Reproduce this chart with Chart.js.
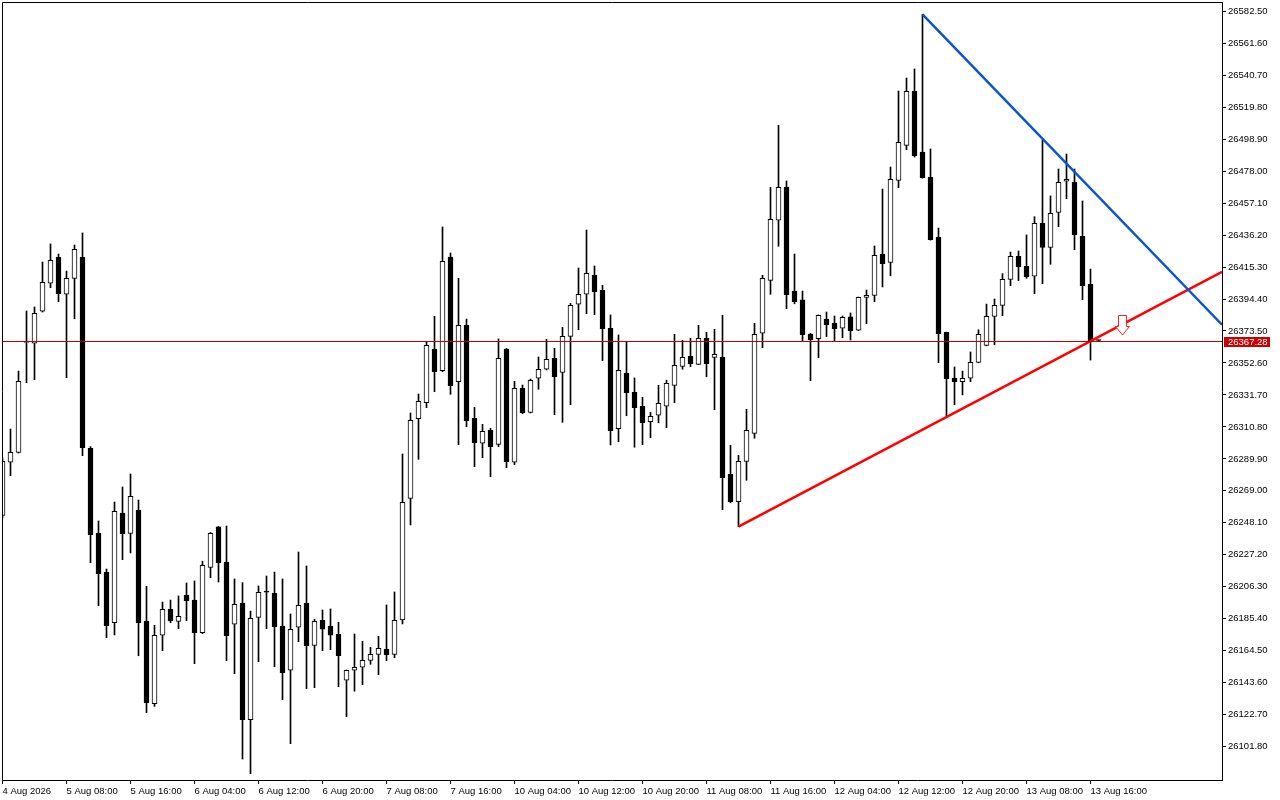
<!DOCTYPE html>
<html>
<head>
<meta charset="utf-8">
<script src="https://cdn.jsdelivr.net/npm/chart.js@4.4.1/dist/chart.umd.min.js"></script>
<style>
  html, body { margin: 0; padding: 0; background: #fff; }
  canvas { display: block; }
</style>
</head>
<body>
<canvas id="priceChart" width="1280" height="800"></canvas>
<script>
// H1 candles, 4 Aug 2026 -> 13 Aug 2026
const opens = [
  26253.0, 26287.7, 26294.2, 26366.0, 26365.5, 26386.4, 26404.7, 26421.7, 26397.5, 26407.9,
  26421.7, 26296.8, 26241.2, 26215.7, 26182.8, 26254.5, 26241.2, 26256.5, 26183.9, 26129.9,
  26174.6, 26191.6, 26183.7, 26200.9, 26197.6, 26176.3, 26219.0, 26245.4, 26222.5, 26181.8,
  26195.7, 26119.4, 26186.3, 26203.3, 26202.0, 26180.6, 26151.7, 26179.8, 26195.5, 26168.0,
  26184.4, 26180.6, 26175.2, 26145.2, 26151.7, 26153.7, 26158.2, 26162.1, 26165.4, 26162.1,
  26184.6, 26264.1, 26316.2, 26326.6, 26361.7, 26347.5, 26421.9, 26340.4, 26377.2, 26316.4,
  26300.1, 26308.6, 26299.4, 26361.7, 26287.7, 26336.0, 26320.3, 26342.6, 26348.5, 26355.6,
  26346.5, 26370.0, 26391.0, 26397.5, 26409.9, 26400.1, 26375.3, 26309.6, 26345.8, 26333.4,
  26324.3, 26314.2, 26318.4, 26324.3, 26338.0, 26350.4, 26357.0, 26351.7, 26368.7, 26356.3,
  26356.3, 26279.8, 26261.9, 26288.3, 26306.6, 26372.0, 26406.6, 26445.9, 26467.6, 26399.6,
  26393.8, 26371.5, 26368.5, 26381.3, 26378.7, 26375.3, 26382.7, 26374.0, 26395.5, 26396.8,
  26423.8, 26418.4, 26472.0, 26494.9, 26530.2, 26490.5, 26474.0, 26434.8, 26372.6, 26342.8,
  26340.4, 26342.6, 26353.0, 26364.1, 26383.1, 26390.3, 26407.3, 26422.3, 26415.8, 26409.3,
  26443.9, 26428.2, 26451.1, 26471.4, 26470.7, 26435.4, 26404.0, 26367.5
];
const highs = [
  26290.5, 26309.4, 26347.3, 26386.6, 26389.2, 26418.6, 26430.4, 26423.8, 26412.7, 26429.7,
  26437.6, 26297.9, 26249.3, 26217.9, 26261.7, 26271.5, 26280.0, 26263.0, 26206.6, 26181.1,
  26196.3, 26197.6, 26200.3, 26208.8, 26210.1, 26223.0, 26241.8, 26245.7, 26246.0, 26211.4,
  26209.0, 26190.4, 26206.8, 26213.3, 26215.9, 26211.4, 26188.5, 26229.0, 26219.9, 26185.0,
  26191.1, 26191.8, 26183.1, 26151.9, 26175.4, 26170.6, 26166.7, 26173.9, 26194.4, 26202.9,
  26293.1, 26319.9, 26332.3, 26366.5, 26383.1, 26441.5, 26424.5, 26407.9, 26381.3, 26323.6,
  26312.5, 26309.9, 26368.3, 26362.1, 26340.6, 26338.2, 26342.1, 26356.5, 26368.1, 26362.2,
  26375.9, 26391.6, 26414.7, 26439.5, 26416.0, 26403.4, 26384.0, 26370.9, 26366.5, 26342.8,
  26330.2, 26320.3, 26338.0, 26341.3, 26371.3, 26367.4, 26368.7, 26377.2, 26372.6, 26374.6,
  26383.8, 26298.8, 26292.2, 26322.3, 26378.5, 26409.9, 26467.4, 26508.0, 26471.6, 26423.8,
  26399.6, 26371.9, 26384.0, 26385.9, 26383.3, 26383.3, 26385.3, 26395.7, 26400.3, 26429.1,
  26466.3, 26480.7, 26530.4, 26538.9, 26544.8, 26580.5, 26492.5, 26440.8, 26372.8, 26350.0,
  26347.3, 26359.8, 26374.3, 26391.1, 26394.4, 26411.0, 26425.1, 26425.8, 26436.3, 26448.2,
  26498.4, 26461.8, 26479.4, 26489.2, 26479.4, 26458.5, 26414.0, 26367.6
];
const lows = [
  26251.3, 26278.9, 26293.7, 26339.7, 26341.7, 26385.9, 26401.8, 26392.7, 26343.0, 26381.5,
  26292.0, 26222.0, 26193.9, 26173.0, 26174.8, 26224.0, 26228.4, 26161.2, 26124.0, 26128.1,
  26164.5, 26182.8, 26178.9, 26184.1, 26156.0, 26175.7, 26212.2, 26209.4, 26158.0, 26149.5,
  26093.7, 26084.1, 26157.3, 26178.9, 26154.0, 26132.5, 26103.7, 26170.4, 26139.7, 26140.3,
  26164.5, 26165.2, 26141.0, 26121.4, 26138.0, 26142.3, 26155.6, 26148.8, 26158.0, 26159.9,
  26182.0, 26246.7, 26289.6, 26323.4, 26333.8, 26346.9, 26332.1, 26299.2, 26310.9, 26284.8,
  26290.7, 26278.2, 26297.9, 26284.1, 26286.1, 26319.4, 26319.9, 26335.4, 26348.0, 26318.8,
  26313.8, 26325.3, 26374.3, 26384.8, 26384.2, 26354.1, 26299.0, 26301.1, 26318.1, 26297.5,
  26299.2, 26303.7, 26313.5, 26310.3, 26326.6, 26348.5, 26350.2, 26351.5, 26343.6, 26322.0,
  26256.7, 26261.2, 26245.6, 26275.9, 26303.4, 26362.6, 26397.5, 26428.9, 26388.1, 26391.3,
  26367.0, 26341.0, 26356.0, 26369.8, 26366.5, 26369.1, 26367.6, 26373.7, 26378.3, 26392.7,
  26402.3, 26409.6, 26467.2, 26492.0, 26487.2, 26473.4, 26432.9, 26352.8, 26318.1, 26325.3,
  26331.7, 26340.4, 26352.7, 26363.8, 26364.5, 26383.5, 26403.1, 26406.4, 26407.9, 26397.9,
  26404.4, 26417.1, 26441.7, 26460.0, 26426.6, 26394.0, 26354.5, 26366.9
];
const closes = [
  26288.3, 26294.2, 26340.6, 26366.4, 26385.1, 26405.3, 26419.7, 26397.9, 26407.9, 26426.9,
  26297.2, 26240.3, 26214.8, 26180.8, 26255.6, 26241.0, 26265.4, 26182.8, 26130.5, 26174.6,
  26191.6, 26184.1, 26187.0, 26197.2, 26176.3, 26220.3, 26241.2, 26222.0, 26174.3, 26194.8,
  26119.4, 26185.7, 26202.7, 26202.8, 26180.2, 26150.1, 26178.5, 26194.2, 26167.8, 26183.7,
  26178.5, 26174.6, 26161.2, 26151.7, 26153.7, 26158.2, 26162.1, 26166.1, 26161.9, 26184.4,
  26261.5, 26315.1, 26327.5, 26364.1, 26346.9, 26419.1, 26337.7, 26377.2, 26314.9, 26300.5,
  26307.9, 26297.9, 26355.6, 26288.1, 26336.0, 26320.1, 26341.3, 26348.5, 26355.0, 26343.6,
  26370.0, 26390.3, 26397.5, 26411.2, 26399.2, 26375.0, 26308.3, 26347.8, 26333.2, 26323.4,
  26313.5, 26317.7, 26326.2, 26339.3, 26351.1, 26356.3, 26352.1, 26368.7, 26352.1, 26358.3,
  26277.6, 26261.9, 26288.3, 26308.6, 26371.3, 26407.9, 26446.5, 26467.4, 26397.2, 26392.7,
  26371.1, 26367.8, 26383.8, 26377.4, 26375.0, 26382.5, 26373.7, 26395.5, 26396.8, 26423.0,
  26417.5, 26472.7, 26496.9, 26530.2, 26488.1, 26473.7, 26433.2, 26371.7, 26342.3, 26340.4,
  26342.6, 26353.0, 26371.3, 26383.1, 26390.3, 26407.3, 26422.3, 26415.5, 26409.0, 26443.9,
  26428.2, 26450.4, 26470.7, 26472.7, 26436.5, 26403.1, 26366.5, 26367.28
];

// time axis: one label every 8 bars
const xTickIdx = [0, 8, 16, 24, 32, 40, 48, 56, 64, 72, 80, 88, 96, 104, 112, 120, 128, 136];
const xTickLabels = [
  '4 Aug 2026', '5 Aug 08:00', '5 Aug 16:00', '6 Aug 04:00', '6 Aug 12:00', '6 Aug 20:00',
  '7 Aug 08:00', '7 Aug 16:00', '10 Aug 04:00', '10 Aug 12:00', '10 Aug 20:00', '11 Aug 08:00',
  '11 Aug 16:00', '12 Aug 04:00', '12 Aug 12:00', '12 Aug 20:00', '13 Aug 08:00', '13 Aug 16:00'
];
const yTickVals = [
  26582.50, 26561.60, 26540.70, 26519.80, 26498.90, 26478.00, 26457.10, 26436.20,
  26415.30, 26394.40, 26373.50, 26352.60, 26331.70, 26310.80, 26289.90, 26269.00,
  26248.10, 26227.20, 26206.30, 26185.40, 26164.50, 26143.60, 26122.70, 26101.80
];

// drawing objects: (bar index, price)
const lastPrice = 26367.28;
const blueTrend = [{ x: 115, y: 26580.5 }, { x: 152.4375, y: 26377.6 }];
const redTrend = [{ x: 92, y: 26245.6 }, { x: 152.4375, y: 26412.2 }];
const sellArrow = [{ x: 140, y: 26377.1 }];

const FONT = { family: "'Liberation Sans', Arial, sans-serif", size: 9.5 };

// hollow red "sell" arrow used as point style
function makeSellArrow() {
  const c = document.createElement('canvas');
  c.width = 15;
  c.height = 21;
  const g = c.getContext('2d');
  g.beginPath();
  g.moveTo(3.5, 0.5);
  g.lineTo(11.5, 0.5);
  g.lineTo(11.5, 11.5);
  g.lineTo(14.5, 11.5);
  g.lineTo(7.5, 20);
  g.lineTo(0.5, 11.5);
  g.lineTo(3.5, 11.5);
  g.closePath();
  g.fillStyle = '#fff';
  g.fill();
  g.strokeStyle = '#ff2020';
  g.lineWidth = 1;
  g.stroke();
  return c;
}

const bodies = opens.map((o, i) => ({ x: i, y: [o, closes[i]] }));
const wicks = lows.map((l, i) => ({ x: i, y: [l, highs[i]] }));
const bodyColors = opens.map((o, i) => (closes[i] >= o ? '#ffffff' : '#000000'));

// frame (left/top), bid line and bid tag on the price scale
const mtFrame = {
  id: 'mtFrame',
  afterDatasetsDraw(chart) {
    const { ctx, chartArea: a, scales } = chart;
    const py = Math.round(scales.y.getPixelForValue(lastPrice)) + 0.5;
    ctx.save();
    ctx.lineWidth = 1;
    ctx.strokeStyle = '#c00000';
    ctx.beginPath();
    ctx.moveTo(a.left, py);
    ctx.lineTo(a.right, py);
    ctx.stroke();
    ctx.strokeStyle = '#000';
    ctx.beginPath();
    ctx.moveTo(a.left + 0.5, a.bottom);
    ctx.lineTo(a.left + 0.5, a.top + 0.5);
    ctx.lineTo(a.right, a.top + 0.5);
    ctx.stroke();
    ctx.restore();
  },
  afterDraw(chart) {
    const { ctx, chartArea: a, scales } = chart;
    const py = Math.round(scales.y.getPixelForValue(lastPrice));
    ctx.save();
    ctx.fillStyle = '#c80000';
    ctx.fillRect(a.right + 2, py - 4, 46, 10);
    ctx.fillStyle = '#fff';
    ctx.font = FONT.size + 'px ' + FONT.family;
    ctx.textBaseline = 'middle';
    ctx.textAlign = 'left';
    ctx.fillText(lastPrice.toFixed(2), a.right + 6, py + 1);
    ctx.restore();
  }
};

Chart.defaults.font.family = FONT.family;
Chart.defaults.font.size = FONT.size;
Chart.defaults.color = '#000';

new Chart(document.getElementById('priceChart'), {
  type: 'bar',
  data: {
    datasets: [
      {
        type: 'scatter',
        data: sellArrow,
        pointStyle: makeSellArrow(),
        pointRadius: 8,
        clip: 0
      },
      {
        type: 'line',
        data: blueTrend,
        borderColor: '#0a55cc',
        borderWidth: 2.5,
        pointRadius: 0,
        fill: false,
        clip: 0
      },
      {
        type: 'line',
        data: redTrend,
        borderColor: '#ff0000',
        borderWidth: 2.5,
        pointRadius: 0,
        fill: false,
        clip: 0
      },
      {
        data: bodies,
        backgroundColor: bodyColors,
        borderColor: '#000',
        borderWidth: 1,
        borderSkipped: false,
        barThickness: 5,
        minBarLength: 1,
        grouped: false,
        clip: 0
      },
      {
        data: wicks,
        backgroundColor: '#000',
        borderWidth: 0,
        barThickness: 1,
        grouped: false,
        clip: 0
      }
    ]
  },
  options: {
    responsive: false,
    devicePixelRatio: 1,
    animation: false,
    events: [],
    layout: { autoPadding: false, padding: { left: 2, top: 2, right: 0, bottom: 0 } },
    plugins: { legend: { display: false }, tooltip: { enabled: false } },
    scales: {
      x: {
        type: 'linear',
        min: -0.0625,
        max: 152.4375,
        offset: false,
        grid: { display: true, drawOnChartArea: false, drawTicks: true, tickLength: 4, color: '#000', offset: false },
        border: { display: true, color: '#000', width: 1 },
        ticks: {
          autoSkip: false,
          maxRotation: 0,
          minRotation: 0,
          align: 'start',
          padding: 2,
          callback: (v, i) => xTickLabels[i]
        },
        afterBuildTicks: (s) => { s.ticks = xTickIdx.map((v) => ({ value: v })); },
        afterFit: (s) => { s.height = 20; s.paddingLeft = 0; s.paddingRight = 0; }
      },
      y: {
        type: 'linear',
        position: 'right',
        min: 26079.97,
        max: 26588.58,
        beginAtZero: false,
        grid: { display: true, drawOnChartArea: false, drawTicks: true, tickLength: 4, color: '#000' },
        border: { display: true, color: '#000', width: 1 },
        ticks: {
          autoSkip: false,
          padding: 2,
          callback: (v) => Number(v).toFixed(2)
        },
        afterBuildTicks: (s) => { s.ticks = yTickVals.map((v) => ({ value: v })); },
        afterFit: (s) => { s.width = 58; s.paddingTop = 0; s.paddingBottom = 0; }
      }
    }
  },
  plugins: [mtFrame]
});
</script>
</body>
</html>
